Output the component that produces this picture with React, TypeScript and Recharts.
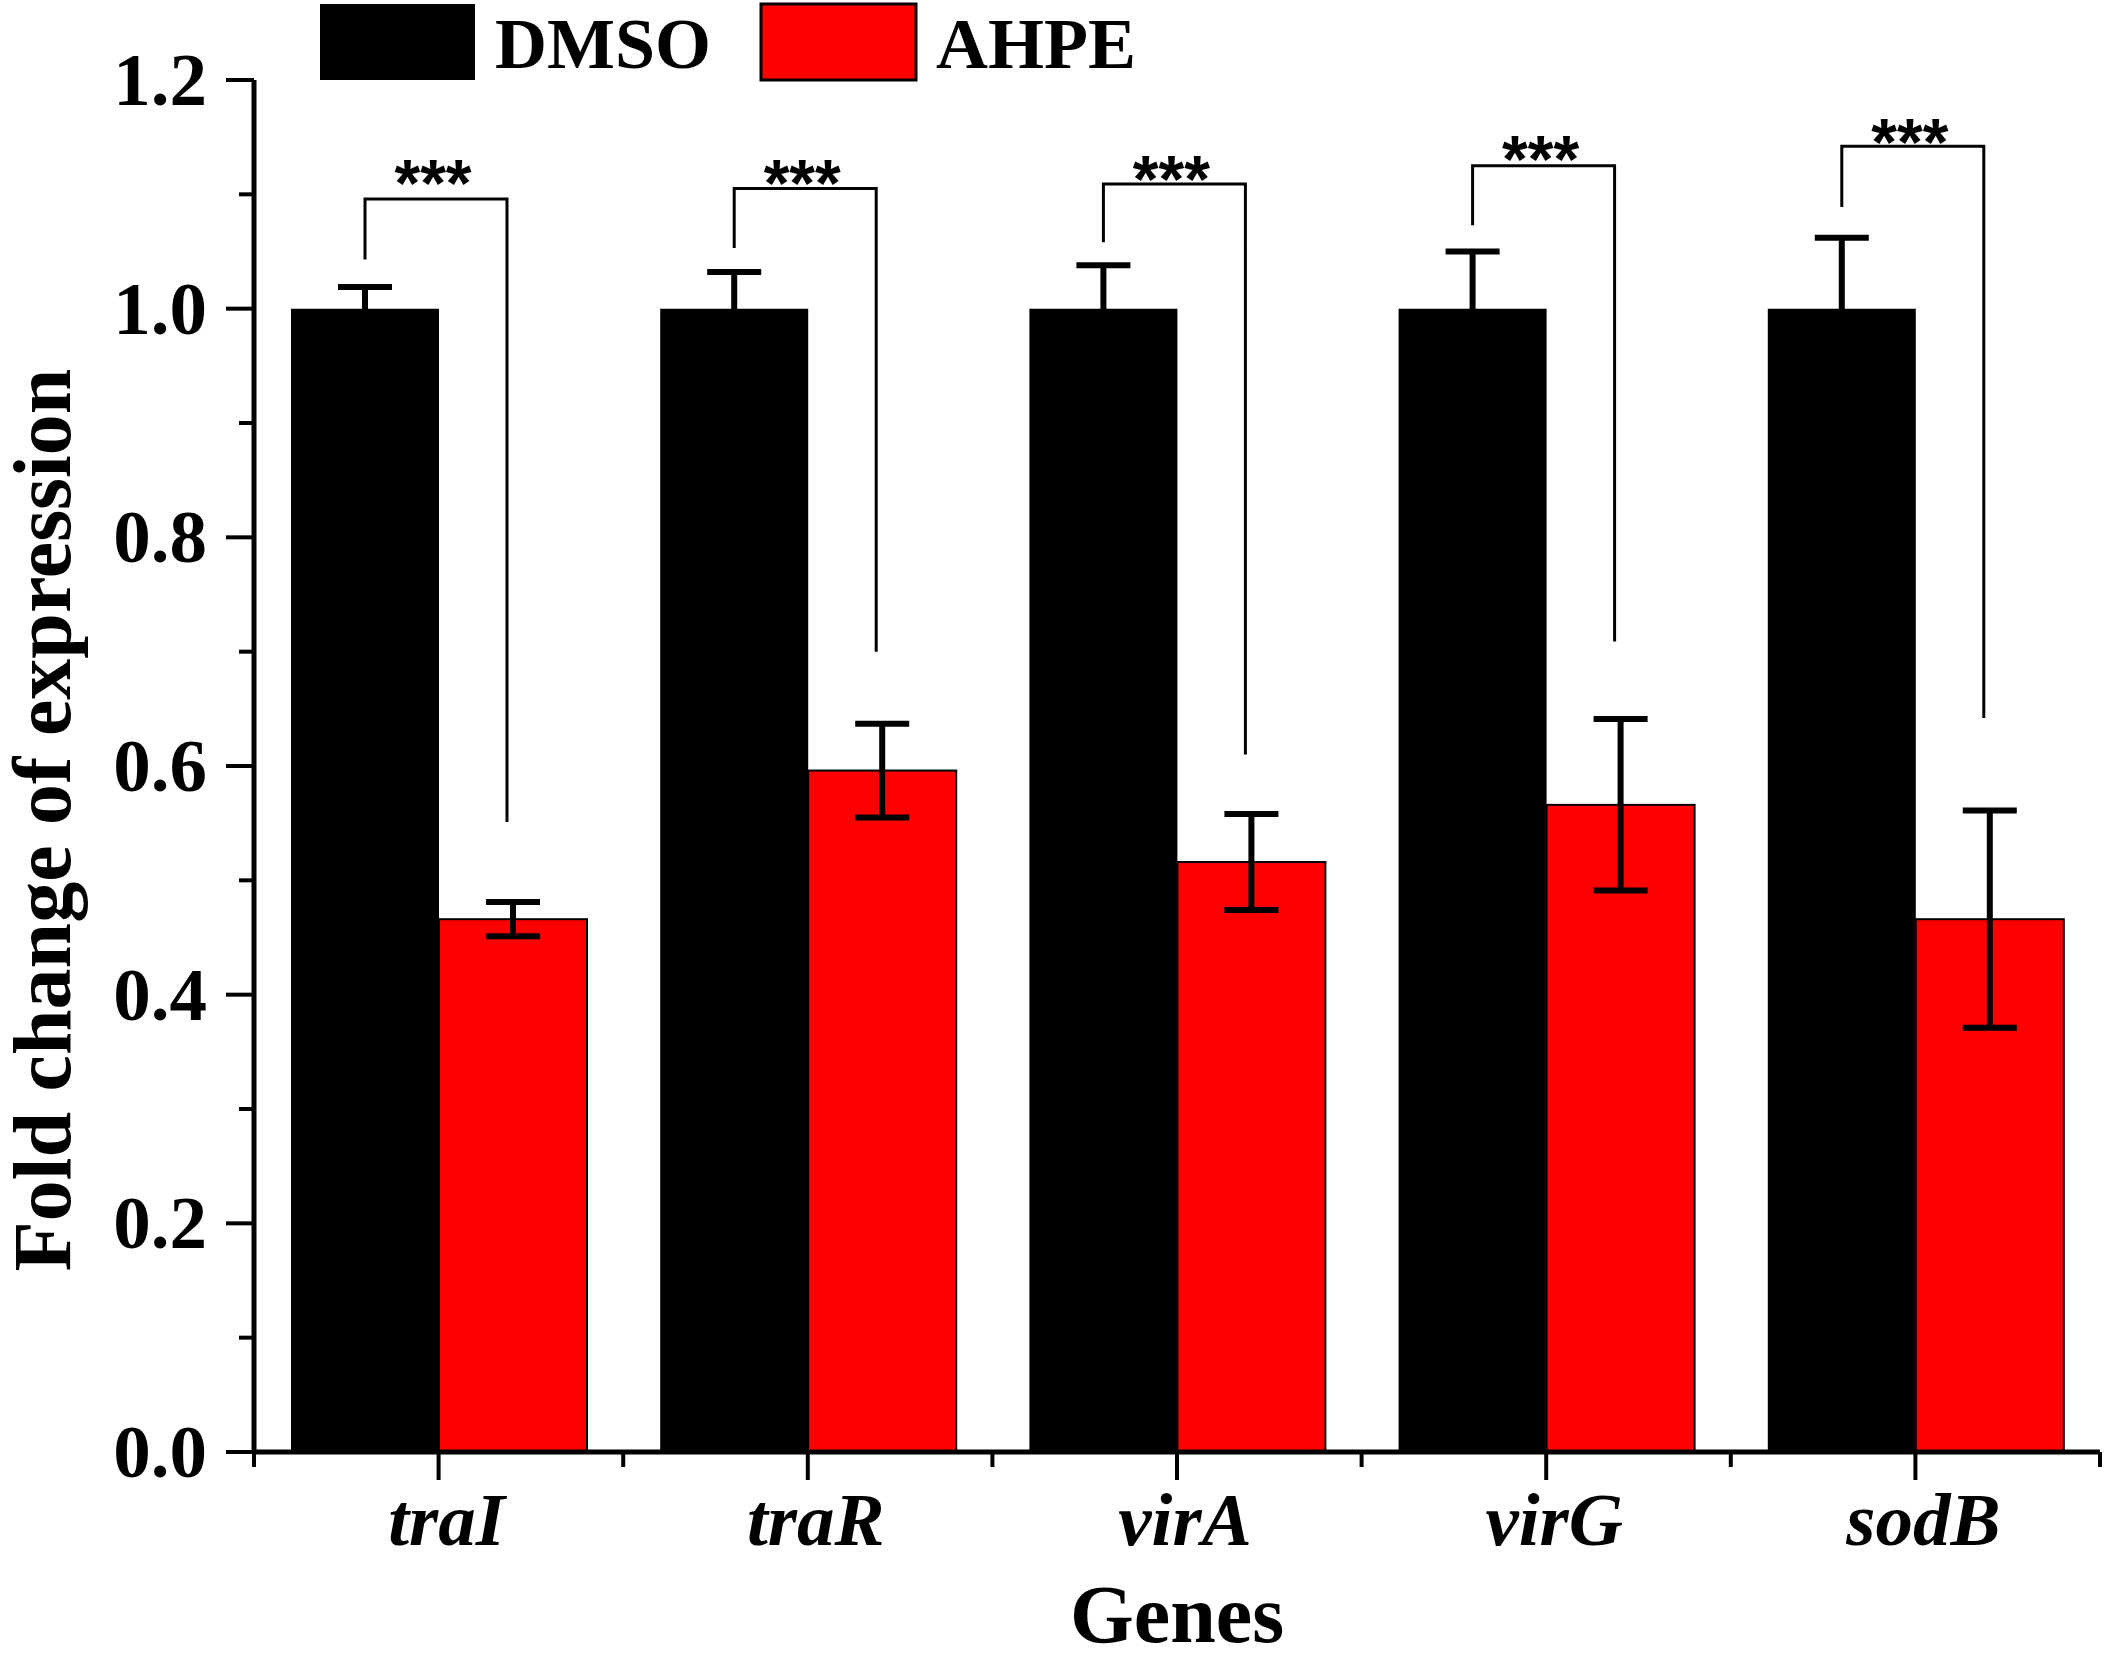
import React from "react";
import { Bar, BarChart, ErrorBar, Legend, XAxis, YAxis } from "recharts";

// qPCR fold change, DMSO vs AHPE, with significance brackets
const genes = ["traI", "traR", "virA", "virG", "sodB"];
const seriesNames = ["DMSO", "AHPE"];
const dmso = [1, 1, 1, 1, 1];
const dmsoErr = [0.019, 0.032, 0.038, 0.05, 0.062];
const ahpe = [0.466, 0.596, 0.516, 0.566, 0.466];
const ahpeErr = [0.015, 0.041, 0.042, 0.075, 0.095];
const sigLabels = ["***", "***", "***", "***", "***"];
const bracketTop = [1.096, 1.105, 1.109, 1.125, 1.142];
const bracketLeftEnd = [1.043, 1.053, 1.058, 1.073, 1.089];
const bracketRightEnd = [0.551, 0.7, 0.61, 0.709, 0.642];
const starCenter = [1.12, 1.12, 1.124, 1.141, 1.156];
const yTicks = [0, 0.1, 0.2, 0.3, 0.4, 0.5, 0.6, 0.7, 0.8, 0.9, 1.0, 1.1, 1.2];

const data = genes.map((gene, i) => ({
  gene,
  dmso: dmso[i],
  dmsoErr: dmsoErr[i],
  ahpe: ahpe[i],
  ahpeErr: ahpeErr[i],
  sig: sigLabels[i],
  bTop: bracketTop[i],
  bLeft: bracketLeftEnd[i],
  bRight: bracketRightEnd[i],
  star: starCenter[i],
}));

const SERIF = '"Liberation Serif", "Times New Roman", serif';
const SANS = '"Liberation Sans", Arial, sans-serif';
const W = 2105;
const H = 1658;

// red bar + the bracket/stars that sit above its pair
function AhpeShape(props: any) {
  const { x, y, width, height, payload } = props;
  const base = y + height;
  const unit = height / payload.ahpe;
  const toY = (v: number) => base - v * unit;
  const lx = x - width / 2;
  const rx = x + width / 2 - 6;
  const top = toY(payload.bTop);
  return (
    <g>
      <rect x={x} y={y} width={width} height={height} fill="#ff0000" stroke="#000" strokeWidth={2} />
      <polyline
        points={`${lx},${toY(payload.bLeft)} ${lx},${top} ${rx},${top} ${rx},${toY(payload.bRight)}`}
        fill="none"
        stroke="#000"
        strokeWidth={3}
      />
      <text x={(lx + rx) / 2 - 3} y={toY(payload.star) + 35} textAnchor="middle" fontFamily={SANS} fontWeight="bold" fontSize={66}>
        {payload.sig}
      </text>
    </g>
  );
}

function ValueTick(props: any) {
  const { x, y, payload } = props;
  const major = Math.round(payload.value * 10) % 2 === 0;
  return (
    <g>
      <line x1={x - (major ? 28 : 15)} x2={x} y1={y} y2={y} stroke="#000" strokeWidth={4} />
      {major && (
        <text x={x - 47} y={y + 25} textAnchor="end" fontFamily={SERIF} fontWeight="bold" fontSize={75} fill="#000">
          {payload.value.toFixed(1)}
        </text>
      )}
    </g>
  );
}

function GeneTick(props: any) {
  const { x, y, payload, index, visibleTicksCount } = props;
  const half = payload.offset || 184.6;
  return (
    <g>
      <line x1={x} x2={x} y1={y} y2={y + 28} stroke="#000" strokeWidth={4} />
      <line x1={x - half} x2={x - half} y1={y} y2={y + 15} stroke="#000" strokeWidth={4} />
      {index === visibleTicksCount - 1 && (
        <line x1={x + half} x2={x + half} y1={y} y2={y + 15} stroke="#000" strokeWidth={4} />
      )}
      <text x={x + 8} y={y + 93} textAnchor="middle" fontFamily={SERIF} fontStyle="italic" fontWeight="bold" fontSize={75} fill="#000">
        {payload.value}
      </text>
    </g>
  );
}

function LegendBox({ payload }: any) {
  const items = [...(payload || [])].sort(
    (a: any, b: any) => seriesNames.indexOf(a.value) - seriesNames.indexOf(b.value)
  );
  return (
    <svg width={840} height={90}>
      {items.map((p: any, i: number) => (
        <g key={p.value} transform={`translate(${i * 441},0)`}>
          <rect x={2} y={4} width={155} height={76} fill={p.color} stroke="#000" strokeWidth={i === 0 ? 0 : 3} />
          <text x={177} y={68} fontFamily={SERIF} fontWeight="bold" fontSize={72} fill="#000">
            {p.value}
          </text>
        </g>
      ))}
    </svg>
  );
}

export default function App() {
  return (
    <div style={{ position: "relative", width: W, height: H, background: "#fff" }}>
      <style>{"body{margin:0}"}</style>
      <BarChart width={W} height={H} data={data} margin={{ top: 80, right: 5, bottom: 0, left: 0 }} barCategoryGap={37} barGap={0}>
        <XAxis
          dataKey="gene"
          height={206}
          interval={0}
          tickSize={0}
          tickMargin={0}
          tickLine={false}
          axisLine={{ stroke: "#000", strokeWidth: 5 }}
          tick={<GeneTick />}
        />
        <YAxis
          width={254}
          domain={[0, 1.2]}
          ticks={yTicks}
          interval={0}
          tickSize={0}
          tickMargin={0}
          tickLine={false}
          axisLine={{ stroke: "#000", strokeWidth: 5 }}
          tick={<ValueTick />}
          allowDataOverflow
        />
        <Legend
          layout="vertical"
          verticalAlign="middle"
          align="center"
          itemSorter={null as any}
          wrapperStyle={{ top: 0, left: 318, width: 840, height: 90 }}
          content={<LegendBox />}
        />
        <Bar dataKey="dmso" name={seriesNames[0]} fill="#000" isAnimationActive={false}>
          <ErrorBar dataKey="dmsoErr" width={27} strokeWidth={6} stroke="#000" direction="y" />
        </Bar>
        <Bar dataKey="ahpe" name={seriesNames[1]} fill="#ff0000" shape={<AhpeShape />} isAnimationActive={false}>
          <ErrorBar dataKey="ahpeErr" width={27} strokeWidth={6} stroke="#000" direction="y" />
        </Bar>
      </BarChart>
      <svg width={W} height={H} style={{ position: "absolute", left: 0, top: 0, pointerEvents: "none" }}>
        <text transform="translate(70,820) rotate(-90)" textAnchor="middle" fontFamily={SERIF} fontWeight="bold" fontSize={82} fill="#000">
          Fold change of expression
        </text>
        <text x={1177} y={1642} textAnchor="middle" fontFamily={SERIF} fontWeight="bold" fontSize={82} fill="#000">
          Genes
        </text>
      </svg>
    </div>
  );
}
